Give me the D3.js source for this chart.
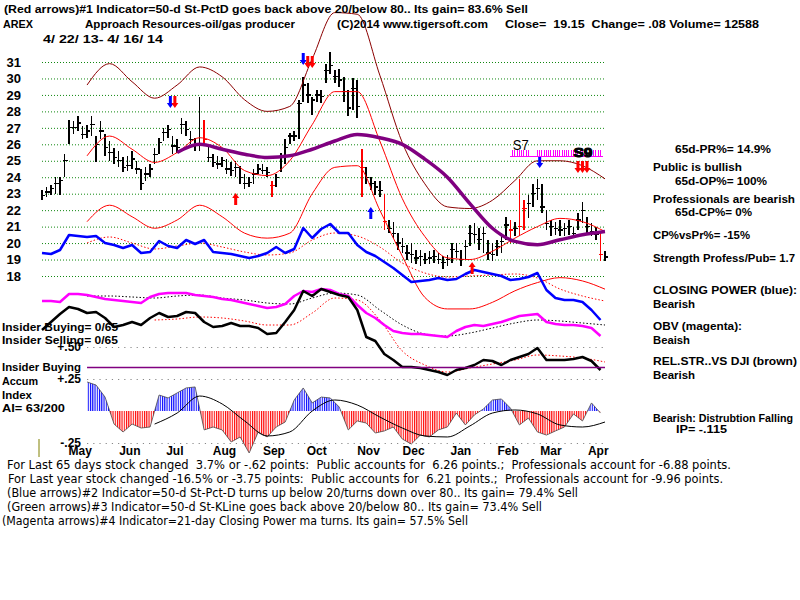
<!DOCTYPE html>
<html>
<head>
<meta charset="utf-8">
<script src="https://cdn.jsdelivr.net/npm/d3@7"></script>
<style>
body { margin: 0; background: #fff; }
svg { display: block; }
</style>
</head>
<body>
<div id="chart"></div>
<script>
// ---- data (4/22/13 - 4/16/14) ----
// trading days run 0..250, bars sampled every 2 days: [high, low, close]
const barStep = 2;
const bars = [
  [23.2,22.6,22.9],[23.4,22.8,23.1],[23.5,22.9,23.3],[24.0,23.0,23.6],[24.0,22.9,23.8],
  [25.4,24.0,25.0],[27.5,26.0,27.0],[27.4,26.6,27.0],[27.7,26.8,27.3],[27.1,26.3,26.6],
  [27.2,26.4,26.8],[27.7,26.5,27.2],[26.5,24.9,26.0],[27.4,26.3,26.8],[26.6,25.3,25.8],
  [26.2,25.0,25.5],[25.8,24.8,25.2],[25.6,24.6,25.0],[25.2,24.3,24.6],[25.3,24.4,24.7],
  [25.6,24.5,25.1],[25.0,24.2,24.5],[24.5,23.2,23.6],[24.6,23.8,24.2],[24.8,24.0,24.5],
  [25.8,24.8,25.4],[26.4,25.4,26.1],[27.0,26.2,26.7],[27.2,26.4,26.9],[26.5,25.4,25.9],
  [26.3,25.5,25.8],[27.6,26.6,27.2],[27.4,26.5,26.9],[26.8,26.0,26.3],[26.4,25.6,26.0],
  [28.9,25.6,26.0],[27.5,26.0,26.3],[26.0,24.9,25.2],[25.4,24.6,24.9],[25.3,24.5,24.8],
  [25.2,24.6,25.0],[25.1,24.2,24.5],[24.9,24.1,24.4],[25.0,24.0,24.6],[24.7,23.6,24.0],
  [24.2,23.3,23.6],[24.0,23.4,23.7],[24.5,23.6,24.2],[24.8,24.2,24.5],[24.8,24.2,24.4],
  [24.6,24.0,24.3],[23.8,22.8,23.5],[24.2,23.4,24.0],[25.5,24.3,25.2],[26.3,24.8,25.8],
  [26.7,26.0,26.5],[26.8,26.2,26.5],[28.7,26.3,28.5],[30.1,28.6,29.6],[29.7,28.5,29.0],
  [28.9,27.8,28.7],[29.3,28.6,29.0],[29.3,28.5,28.9],[30.9,29.7,30.5],[31.6,30.3,30.8],
  [30.5,29.7,30.1],[30.6,29.5,29.9],[30.1,28.6,29.2],[29.3,27.7,28.2],[30.0,28.1,29.4],
  [29.9,27.6,28.3],[25.7,22.8,24.6],[24.6,23.6,24.0],[24.0,23.2,23.6],[23.8,22.9,23.4],
  [23.8,22.8,23.2],[23.0,20.8,21.3],[21.4,20.6,20.9],[21.3,20.3,20.6],[20.6,19.6,20.0],
  [20.3,19.4,19.8],[19.9,19.0,19.4],[20.0,18.8,19.3],[19.6,18.7,19.1],[19.6,18.6,19.2],
  [19.4,18.7,19.0],[19.5,18.7,19.1],[19.6,18.8,19.2],[19.4,18.7,19.0],[19.2,18.4,18.8],
  [19.3,18.6,19.0],[20.0,18.8,19.6],[20.0,19.1,19.5],[19.6,18.6,19.0],[20.2,19.0,19.8],
  [21.1,19.8,20.6],[21.2,20.0,20.5],[20.9,19.6,20.2],[21.0,19.4,20.6],[20.2,19.0,19.4],
  [20.0,18.9,19.3],[20.2,19.2,19.8],[20.6,19.4,20.1],[21.6,20.2,21.1],[21.4,20.0,20.8],
  [21.3,20.4,20.9],[23.9,20.4,21.0],[22.6,20.8,22.1],[22.9,21.5,22.4],[23.6,22.2,23.0],
  [23.9,22.6,23.3],[23.6,21.8,22.2],[22.0,20.8,21.2],[21.4,20.4,21.0],[21.3,20.5,20.9],
  [21.4,20.4,20.8],[21.2,20.4,20.9],[21.4,20.5,21.0],[21.0,20.3,20.6],[21.8,20.8,21.4],
  [22.5,21.2,22.0],[21.6,20.6,21.0],[21.2,20.4,20.7],[21.0,20.2,20.5],[20.7,18.9,19.3],
  [19.5,18.9,19.15]
];
const redBars = [36, 51, 71, 76, 104, 106, 107, 124];

// bands and moving averages, every 10 trading days
const bandStep = 10;
const upperBand = [null,null,29.6,30.9,29.8,28.8,29.6,30.7,30.1,28.7,28.0,28.3,31.2,34.0,33.9,30.2,26.1,23.6,22.2,22.1,22.6,23.8,25.0,25.0,24.7,23.9];
const ma21 = [null,null,25.3,26.5,25.7,24.9,25.5,26.4,25.8,24.4,24.1,25.0,27.2,29.2,29.2,26.2,22.7,20.4,19.1,19.0,19.5,20.3,21.0,21.5,21.3,20.7];
const lowerBand = [null,null,21.3,22.3,21.6,20.9,21.4,22.3,21.6,20.6,20.3,20.6,23.0,24.6,24.7,22.0,19.2,16.7,16.0,16.0,16.4,17.1,17.6,17.9,17.7,17.2];
const ma65 = [null,null,null,null,null,null,25.5,26.0,25.7,25.4,25.2,25.3,25.7,26.2,26.6,26.4,26.0,25.1,24.0,22.4,20.9,20.1,19.9,20.2,20.5,20.7];

// indicator lines (plot units 0..200), every 4 trading days
const indStep = 4;
const closingPower = [93.5,93,95,102.5,102,101.5,102,98.5,97.5,96,97.5,93.5,94,99.5,97,96,100,98,100,94,
  93.5,93,92,91,92,93.5,96.5,93.5,95.5,106,101,105.5,108,103.5,103.5,97.5,94,92,89,86,
  82.5,79,79.5,80,81,80,80.5,83,85,84,83,82,80,80.5,81.5,83.5,75,71,70,70,69,65,60];
const obv = [69.5,69.5,69,73,73,72.5,71.5,70.5,70,69.5,69,68.5,71.5,73,73.5,73.5,73.5,72.5,72,71.5,
  70.5,70,69,68,67,66,66.5,68,72,74.5,74,75.5,75,73,72,67.5,63.5,61,57.5,54.5,
  53.5,53,53,52.5,52,51.5,54.5,56.5,57.5,57,58,59,60.5,62,62.5,63,59,58,57.5,57.5,57,56,52];
const relStrength = [55,59,63,66.5,65.5,63.5,64,61,56.5,57.5,59,57.5,61,63.5,61.5,62,64,63.5,59,56.5,
  57,58.5,57,57,56,53,53.5,59,65,74.5,72,75.5,74,72.5,71.5,65,51.5,49.5,43,40,
  36.5,36.5,36,35,34,32.5,35,36,37.5,40,39.5,37.5,40,41.5,43,46,40,40,40,40.5,41.5,39.5,35];
// their moving averages, every 10 days
const closingPowerMA = [null,null,98.5,101.5,98.5,95.5,97,98.5,96.5,94,92.5,93.5,100,103.5,102,96.5,88.5,83.5,81.5,82,82.5,83,81,75.5,72,69.5];
const obvMA = [null,null,72,72,71.5,71,72,72.5,71,70,68.5,68,71,73.5,72.5,65,57.5,53,52,53.5,56,58.5,60,59.5,58.5,57.5];
const relStrengthMA = [null,null,null,null,null,60,60.5,61.5,61,59.5,57.5,57.5,63.5,71,70,60,44.5,37.5,34,36,38,40,42.5,42,41,39];

// accumulation index, every 4 days, and its MA every 10 days
const accumIndex = [null,null,null,null,null,
  .227,.203,.109,-.102,-.164,-.102,-.133,-.125,.125,.102,
  .141,.180,.188,-.148,-.125,-.148,-.242,-.203,-.328,-.164,
  -.203,-.125,-.086,.086,.180,.063,.109,.102,.031,-.148,
  -.078,-.094,-.172,-.156,-.125,-.219,-.258,-.188,-.203,-.148,
  -.125,-.016,-.109,-.031,.016,.086,.094,.023,-.109,-.055,
  -.164,-.188,-.156,-.125,-.023,-.078,.063,-.016];
const accumMA = [null,null,null,null,null,-.102,-.016,.117,.055,-.078,-.195,-.164,0,.086,.047,-.047,-.133,-.195,-.203,-.117,-.016,.008,-.023,-.109,-.125,-.086];
const insiderLevel = 0.34;
const aiTicks = [0.5, 0.25, -0.25];
const aiTickLabels = ["+.50", "+.25", "-.25"];

// signals: [day, price]
const redDownSignals = [[59, 28.2], [118, 30.64], [120, 30.64], [238, 24.26], [240, 24.26], [242, 24.26]];
const blueDownSignals = [[57, 28.2], [116, 30.82], [221, 24.56]];
const redUpSignals = [[86, 23.04], [191, 18.85]];
const blueUpSignals = [[146, 22.19]];
const magentaSignals = [209,210,211,212,213,214,215,216,220,221,222,223,224,225,226,227,228,229,230,
  231,232,233,234,235,236,237,238,239,240,241,242,243,244,245,246,247,248];

const priceTicks = [31,30,29,28,27,26,25,24,23,22,21,20,19,18];
const monthStarts = [7, 29, 49, 71, 93, 112, 135, 155, 176, 197, 216, 237];
const monthNames = ["May","Jun","Jul","Aug","Sep","Oct","Nov","Dec","Jan","Feb","Mar","Apr"];

// ---- drawing ----
const W = 800, H = 600;
const boldFont = "'Liberation Sans', Arial, sans-serif";
const narrowFont = "'Liberation Sans Narrow', 'Arial Narrow', 'DejaVu Sans Condensed', sans-serif";

const svg = d3.select("#chart").append("svg").attr("width", W).attr("height", H);
svg.append("rect").attr("width", W).attr("height", H).attr("fill", "#fff");

const x = d3.scaleLinear().domain([0, 250]).range([42, 605]);
const y = d3.scaleLinear().domain([18, 31]).range([276, 62]);
const yInd = d3.scaleLinear().domain([0, 200]).range([440, 40]);
const yAI = d3.scaleLinear().domain([-0.25, 0.25]).range([443, 379]);

const defs = svg.append("defs");
function stripes(id, color) {
  const p = defs.append("pattern").attr("id", id).attr("patternUnits", "userSpaceOnUse")
    .attr("width", 2.25).attr("height", 10);
  p.append("rect").attr("width", 1.1).attr("height", 10).attr("fill", color);
}
stripes("blueStripe", "#0000ff");
stripes("redStripe", "#ff0000");
defs.append("clipPath").attr("id", "aiPos").append("rect")
  .attr("x", 0).attr("y", 0).attr("width", W).attr("height", yAI(0));
defs.append("clipPath").attr("id", "aiNeg").append("rect")
  .attr("x", 0).attr("y", yAI(0)).attr("width", W).attr("height", H - yAI(0));

// green dotted price grid
svg.append("g").attr("transform", "translate(42,0)")
  .call(d3.axisRight(y).tickValues(priceTicks).tickSize(563).tickFormat(""))
  .call(g => g.select(".domain").remove())
  .selectAll("line").attr("stroke", "#118811").attr("stroke-dasharray", "1,2");

// price labels
svg.append("g").attr("transform", "translate(21,0)")
  .call(d3.axisLeft(y).tickValues(priceTicks).tickSize(0).tickPadding(0))
  .call(g => g.select(".domain").remove())
  .selectAll("text").attr("font-size", 13).attr("font-weight", "bold")
  .attr("font-family", boldFont).attr("fill", "#000");

// AI dotted levels
svg.append("g").attr("transform", "translate(" + x(20) + ",0)")
  .call(d3.axisRight(yAI).tickValues(aiTicks).tickSize(x(250) - x(20)).tickFormat(""))
  .call(g => g.select(".domain").remove())
  .selectAll("line").attr("stroke", "#888").attr("stroke-dasharray", "1.2,5");
svg.append("g").attr("transform", "translate(81,0)")
  .call(d3.axisLeft(yAI).tickValues(aiTicks).tickSize(0).tickPadding(0)
    .tickFormat((d, i) => aiTickLabels[i]))
  .call(g => g.select(".domain").remove())
  .selectAll("text").attr("font-size", 12).attr("font-weight", "bold")
  .attr("font-family", boldFont).attr("fill", "#000");

// month labels
svg.append("g").attr("transform", "translate(0,446)")
  .call(d3.axisBottom(x).tickValues(monthStarts).tickSize(0).tickPadding(0)
    .tickFormat((d, i) => monthNames[i]))
  .call(g => g.select(".domain").remove())
  .selectAll("text").attr("dx", 22).attr("font-size", 12).attr("font-weight", "bold")
  .attr("font-family", boldFont).attr("fill", "#000");

svg.append("line").attr("x1", 39).attr("x2", 39).attr("y1", 439).attr("y2", 457)
  .attr("stroke", "#808000").attr("stroke-width", 1);

// price bars
const barG = svg.append("g").attr("shape-rendering", "crispEdges");
const barColor = (d, i) => redBars.includes(i) ? "#ff0000" : "#000";
barG.selectAll("line.hl").data(bars).join("line").attr("class", "hl")
  .attr("x1", (d, i) => x(i * barStep)).attr("x2", (d, i) => x(i * barStep))
  .attr("y1", d => y(d[0])).attr("y2", d => y(d[1]))
  .attr("stroke", barColor).attr("stroke-width", 1.6);
barG.selectAll("line.cl").data(bars).join("line").attr("class", "cl")
  .attr("x1", (d, i) => x(i * barStep) - 1.5).attr("x2", (d, i) => x(i * barStep) + 3)
  .attr("y1", d => y(d[2])).attr("y2", d => y(d[2]))
  .attr("stroke", barColor).attr("stroke-width", 1.3);

function linePath(step, scale, curve) {
  return d3.line().defined(v => v != null)
    .x((v, i) => x(i * step)).y(v => scale(v)).curve(curve || d3.curveLinear);
}
function drawLine(vals, step, scale, color, width, dash, curve) {
  svg.append("path").datum(vals).attr("d", linePath(step, scale, curve))
    .attr("fill", "none").attr("stroke", color).attr("stroke-width", width)
    .attr("stroke-dasharray", dash || null).attr("stroke-linejoin", "round");
}

// bands
drawLine(upperBand, bandStep, y, "#8b0000", 1, null, d3.curveMonotoneX);
drawLine(ma21, bandStep, y, "#ff0000", 1, null, d3.curveMonotoneX);
drawLine(lowerBand, bandStep, y, "#ff0000", 1, null, d3.curveMonotoneX);
drawLine(ma65, bandStep, y, "#800080", 3.5, null, d3.curveMonotoneX);

// indicator lines
drawLine(closingPowerMA, bandStep, yInd, "#ff0000", 1, "1.5,2", d3.curveMonotoneX);
drawLine(obvMA, bandStep, yInd, "#000", 1, "1.5,2", d3.curveMonotoneX);
drawLine(relStrengthMA, bandStep, yInd, "#ff0000", 1, "1.5,2", d3.curveMonotoneX);
drawLine(obv, indStep, yInd, "#ff00ff", 2.5);
drawLine(relStrength, indStep, yInd, "#000", 2.5);
drawLine(closingPower, indStep, yInd, "#0000ff", 2.5);

// insider buying line
svg.append("line").attr("x1", x(20)).attr("x2", x(250))
  .attr("y1", yAI(insiderLevel)).attr("y2", yAI(insiderLevel))
  .attr("stroke", "#800080").attr("stroke-width", 1.5);

// accumulation index histogram
const aiArea = d3.area().defined(v => v != null)
  .x((v, i) => x(i * indStep)).y0(yAI(0)).y1(v => yAI(v));
svg.append("path").datum(accumIndex).attr("d", aiArea)
  .attr("fill", "url(#blueStripe)").attr("clip-path", "url(#aiPos)");
svg.append("path").datum(accumIndex).attr("d", aiArea)
  .attr("fill", "url(#redStripe)").attr("clip-path", "url(#aiNeg)");
drawLine(accumIndex, indStep, yAI, "#333", 0.7);
drawLine(accumMA, bandStep, yAI, "#000", 1, null, d3.curveMonotoneX);

// signal arrows
function arrow(day, price, dir, color) {
  const cx = x(day), t = y(price), s = dir === "down" ? -1 : 1;
  const p = [[cx - 1.5, t + s * 12], [cx + 1.5, t + s * 12], [cx + 1.5, t + s * 5], [cx + 3.5, t + s * 5],
    [cx, t], [cx - 3.5, t + s * 5], [cx - 1.5, t + s * 5]];
  svg.append("path").attr("d", "M" + p.join("L") + "Z").attr("fill", color);
}
blueDownSignals.forEach(d => arrow(d[0], d[1], "down", "#0000ff"));
redDownSignals.forEach(d => arrow(d[0], d[1], "down", "#ff0000"));
redUpSignals.forEach(d => arrow(d[0], d[1], "up", "#ff0000"));
blueUpSignals.forEach(d => arrow(d[0], d[1], "up", "#0000ff"));

// magenta comb of closing-power ma turns
const magG = svg.append("g").attr("stroke", "#ff00ff").attr("shape-rendering", "crispEdges");
magG.selectAll("line").data(magentaSignals).join("line")
  .attr("x1", d => x(d)).attr("x2", d => x(d)).attr("y1", y(25.65)).attr("y2", y(25.2));
magG.append("line").attr("x1", x(208)).attr("x2", x(249)).attr("y1", y(25.25)).attr("y2", y(25.25))
  .attr("stroke-width", 1.5);

function label(str, px, py, opts) {
  const o = opts || {};
  const t = svg.append("text").attr("x", px).attr("y", py).text(str)
    .attr("font-family", o.family || boldFont).attr("font-size", o.size || 11.5)
    .attr("font-weight", o.weight || "bold").attr("fill", o.color || "#000")
    .style("white-space", "pre");
  if (o.width) t.attr("textLength", o.width).attr("lengthAdjust", "spacingAndGlyphs");
  if (o.stroke) t.attr("stroke", o.stroke).attr("stroke-width", o.stroke_w || 1);
  return t;
}
label("S7", x(209), y(25.65), {size: 14, width: 16, weight: "normal"});
label("S9", x(236), y(25.23), {size: 13, width: 19, stroke: "#000"});

// header
label("(Red arrows)#1 Indicator=50-d St-PctD goes back above 20/below 80.. Its gain= 83.6% Sell", 4, 13, {width: 524});
label("AREX", 3, 28, {width: 30});
label("Approach Resources-oil/gas producer", 85, 28, {width: 210});
label("(C)2014 www.tigersoft.com", 337, 28, {width: 151});
label("Close=  19.15  Change= .08 Volume= 12588", 505, 28, {width: 254});
label("4/ 22/ 13- 4/ 16/ 14", 43, 43, {width: 120});

// right-hand commentary
label("65d-PR%= 14.9%", 675, 153, {width: 96});
label("Public is bullish", 653, 171, {width: 89});
label("65d-OP%= 100%", 675, 185, {width: 92});
label("Professionals are bearish", 653, 203, {width: 142});
label("65d-CP%= 0%", 675, 216, {width: 77});
label("CP%vsPr%= -15%", 653, 239, {width: 97});
label("Strength Profess/Pub= 1.7", 653, 262, {width: 142});
label("CLOSING POWER (blue):", 653, 294, {width: 144});
label("Bearish", 653, 308, {width: 42});
label("OBV (magenta):", 653, 330, {width: 89});
label("Beaish", 653, 344, {width: 37});
label("REL.STR..VS DJI (brown)", 653, 365, {width: 144});
label("Bearish", 653, 379, {width: 42});
label("Bearish: Distrubtion Falling", 653, 422, {width: 140});
label("IP= -.115", 676, 433, {width: 51});

// left-hand panel notes
label("Insider Buying= 0/65", 2, 331, {width: 116});
label("Insider Selling= 0/65", 2, 344, {width: 116});
label("Insider Buying", 2, 371, {width: 79});
label("Accum", 2, 385, {width: 36});
label("Index", 2, 399, {width: 30});
label("AI= 63/200", 2, 412, {width: 63});

// footer
const foot = {family: narrowFont, size: 12.5, weight: "normal"};
label("For Last 65 days stock changed  3.7% or -.62 points:  Public accounts for  6.26 points.;  Professionals account for -6.88 points.", 7, 469, Object.assign({width: 724}, foot));
label("For Last year stock changed -16.5% or -3.75 points:  Public accounts for  6.21 points.;  Professionals account for -9.96 points.", 8, 483, Object.assign({width: 715}, foot));
label("(Blue arrows)#2 Indicator=50-d St-Pct-D turns up below 20/turns down over 80.. Its gain= 79.4% Sell", 7, 497, Object.assign({width: 571}, foot));
label("(Green arrows)#3 Indicator=50-d St-KLine goes back above 20/below 80.. Its gain= 73.4% Sell", 7, 511, Object.assign({width: 535}, foot));
label("(Magenta arrows)#4 Indicator=21-day Closing Power ma turns. Its gain= 57.5% Sell", 2, 525, Object.assign({width: 466}, foot));
</script>
</body>
</html>
